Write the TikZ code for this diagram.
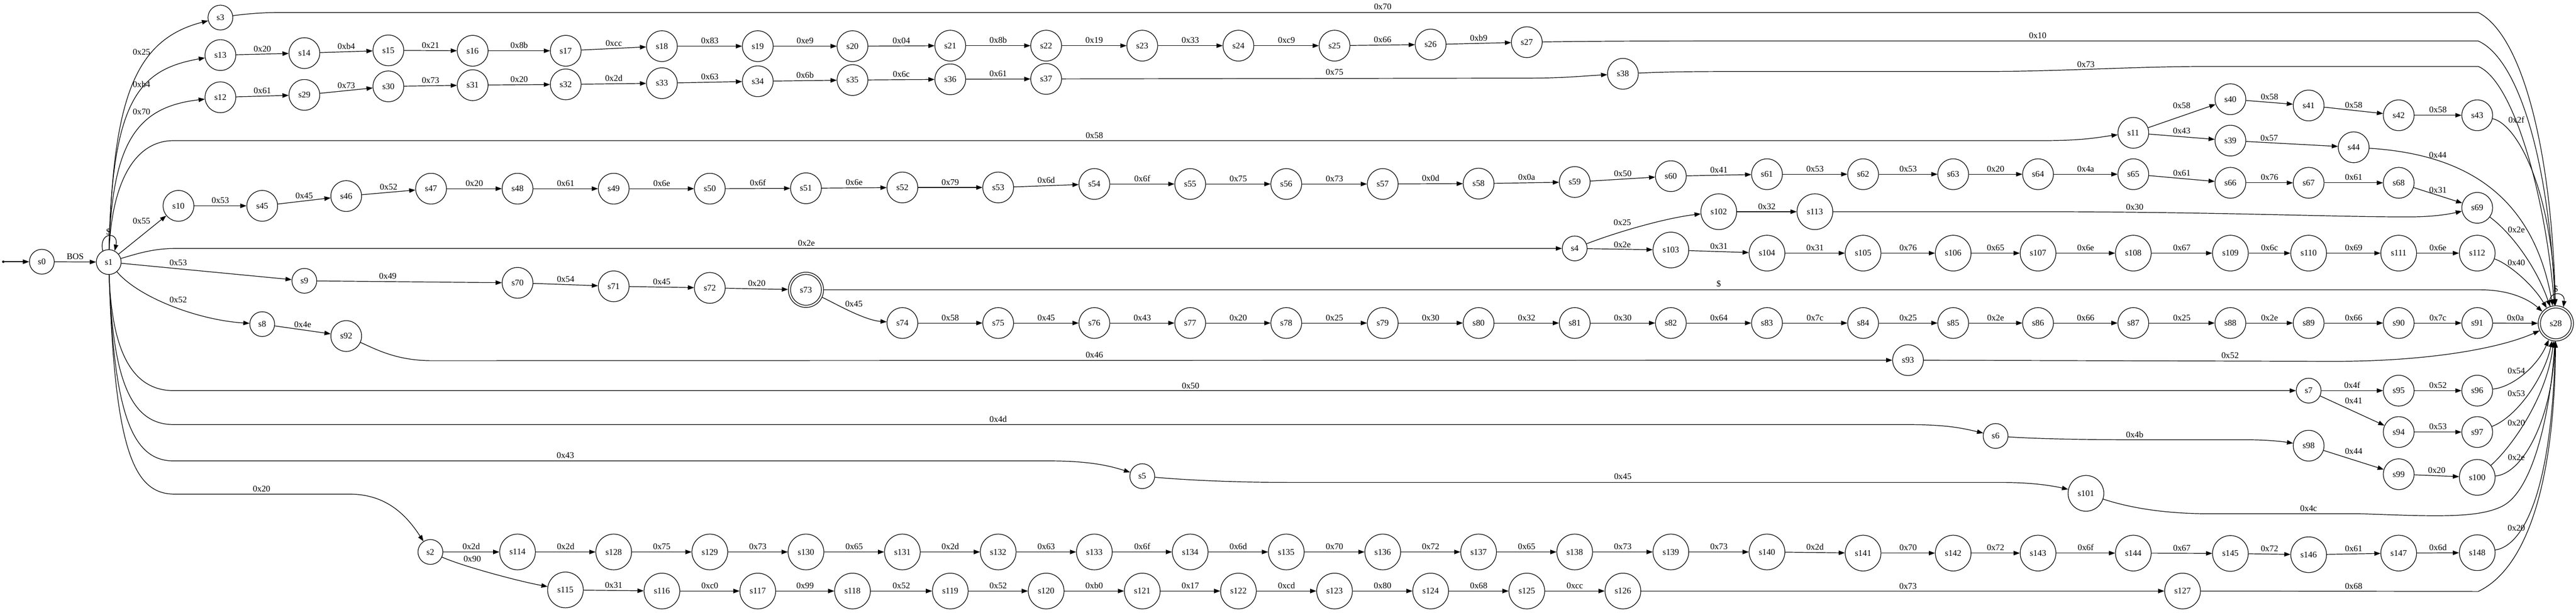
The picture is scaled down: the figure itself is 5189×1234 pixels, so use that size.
\documentclass[tikz,border=0pt]{standalone}
\usepackage{fontspec}
\setmainfont{Liberation Serif}
\usetikzlibrary{arrows.meta}
\begin{document}
\begin{tikzpicture}[x=1pt,y=-1pt,
  every node/.style={font=\fontsize{17.5pt}{21pt}\selectfont},
  base/.style={circle, draw, line width=1.25pt, inner sep=0pt},
  n2/.style={base, minimum size=50pt},
  n3/.style={base, minimum size=62pt},
  n4/.style={base, minimum size=72pt},
  acc/.style={base, minimum size=71pt},
  e/.style={line width=1.25pt, -{Triangle[length=12.5pt,width=9pt]}},
  lab/.style={inner sep=0pt, text height=11.6pt, text depth=0pt},
  ab/.style={lab, above=4.5pt},
]
\useasboundingbox (0,0) rectangle (5189,1234);

% ---------- states ----------
\foreach \nm/\xx/\yy in {s0/84.3/527.3, s1/219/528, s2/867/1112, s3/444/35.4, s4/3172/500.5,
  s5/2300.9/959.3, s6/4019.8/878.3, s7/4650.4/787, s8/528.2/653, s9/613.1/565.8}
  \node[n2] (\nm) at (\xx,\yy) {\nm};

\foreach \nm/\xx/\yy in {s10/359.5/414.7, s11/4297.2/267.6, s12/444/196, s13/444/111,
  s14/613.1/107, s15/782.3/101.5, s16/952.1/102.3, s17/1139.6/102.3, s18/1333.3/93,
  s19/1526.4/93, s20/1717.2/93, s21/1914.2/92, s22/2107.3/92, s23/2300.9/92, s24/2494.6/92,
  s25/2688.2/92, s26/2881.8/89.7, s27/3075.5/85,
  s29/613.1/191.2, s30/782.3/174, s31/952.1/171.6, s32/1139.6/170, s33/1333.3/167.6,
  s34/1526.4/163.7, s35/1717.2/161.3, s36/1914.2/159.8, s37/2107.3/159, s38/3269.1/148.7,
  s39/4492.8/283.3, s40/4492.8/199.9, s41/4650.4/212.5, s42/4831.8/232.2, s43/4990/232.2,
  s44/4741.1/296.7,
  s45/528.2/414.7, s46/697.4/395, s47/868.3/380.1, s48/1042.5/380.1, s49/1236.2/380.1,
  s50/1429.8/380.1, s51/1623.5/379.3, s52/1817.7/377.7, s53/2010.7/377.7, s54/2204.4/370.7,
  s55/2397.5/370.7, s56/2591/370.7, s57/2785.3/370.7, s58/2978.4/369.9, s59/3172/366.7,
  s60/3365.7/354.9, s61/3559.3/351, s62/3752.9/351, s63/3934.4/351, s64/4105.3/351,
  s65/4297.2/351, s66/4492.8/368.3, s67/4650.4/368.3, s68/4831.8/368.3, s69/4990/418.7,
  s70/1042.5/569.8, s71/1236.2/576.8, s72/1429.8/580,
  s74/1817.7/650.8, s75/2010.7/650.8, s76/2204.4/650.8, s77/2397.5/650.8, s78/2591/650.8,
  s79/2785.3/650.8, s80/2978.4/650.8, s81/3172/650.8, s82/3365.7/650.8, s83/3559.3/650.8,
  s84/3752.9/650.8, s85/3934.4/650.8, s86/4105.3/650.8, s87/4297.2/650.8, s88/4492.8/650.8,
  s89/4650.4/650.8, s90/4831.8/650.8, s91/4990/650.8,
  s92/697.4/677, s93/3843.4/725.6, s94/4831.8/870.4, s95/4831.8/787, s96/4990/787,
  s97/4990/870.4, s98/4650.4/897.9, s99/4831.8/955.4}
  \node[n3] (\nm) at (\xx,\yy) {\nm};

\foreach \nm/\xx/\yy in {s100/4990/961.7, s101/4201.8/993.9, s102/3462.2/426.5,
  s103/3365.7/503.7, s104/3559.3/510, s105/3752.9/510, s106/3934.4/510, s107/4105.3/510,
  s108/4297.2/510, s109/4492.8/510, s110/4650.4/510, s111/4831.8/510, s112/4990/510,
  s113/3655.8/426.5,
  s114/1042.5/1112, s128/1236.2/1112, s129/1429.8/1112, s130/1623.5/1112, s131/1817.7/1112,
  s132/2010.7/1112, s133/2204.4/1112, s134/2397.5/1112, s135/2591/1112, s136/2785.3/1112,
  s137/2978.4/1112, s138/3172/1112, s139/3365.7/1112, s140/3559.3/1112, s141/3752.9/1114.3,
  s142/3934.4/1114.3, s143/4105.3/1114.3, s144/4297.2/1114.3, s145/4492.8/1115,
  s146/4650.4/1117.5, s147/4831.8/1114.3, s148/4990/1113.5,
  s115/1139/1188.5, s116/1333.3/1190.7, s117/1526.4/1190.7, s118/1717.2/1190.7,
  s119/1914.2/1190.7, s120/2107.3/1190.7, s121/2300.9/1190.7, s122/2494.6/1190.7,
  s123/2688.2/1190.7, s124/2881.8/1190.7, s125/3075.5/1190.7, s126/3269.1/1190.7,
  s127/4396.4/1190.7}
  \node[n4] (\nm) at (\xx,\yy) {\nm};

\node[acc] (s73) at (1623.5,583.9) {s73};
\node[acc] (s28) at (5148.3,651.5) {s28};
\draw[line width=1.25pt] (s73.center) circle[radius=31pt];
\draw[line width=1.25pt] (s28.center) circle[radius=31pt];

\node[circle, fill, inner sep=0pt, minimum size=5pt] (st) at (6.7,527.3) {};
\draw[e] (st) -- (s0);

% ---------- straight chain edges ----------
\foreach \na/\nb/\lt in {s0/s1/BOS,
  s10/s45/0x53, s45/s46/0x45, s46/s47/0x52, s47/s48/0x20, s48/s49/0x61, s49/s50/0x6e,
  s50/s51/0x6f, s51/s52/0x6e, s52/s53/0x79, s53/s54/0x6d, s54/s55/0x6f, s55/s56/0x75,
  s56/s57/0x73, s57/s58/0x0d, s58/s59/0x0a, s59/s60/0x50, s60/s61/0x41, s61/s62/0x53,
  s62/s63/0x53, s63/s64/0x20, s64/s65/0x4a, s65/s66/0x61, s66/s67/0x76, s67/s68/0x61,
  s68/s69/0x31,
  s13/s14/0x20, s14/s15/0xb4, s15/s16/0x21, s16/s17/0x8b, s17/s18/0xcc, s18/s19/0x83,
  s19/s20/0xe9, s20/s21/0x04, s21/s22/0x8b, s22/s23/0x19, s23/s24/0x33, s24/s25/0xc9,
  s25/s26/0x66, s26/s27/0xb9,
  s12/s29/0x61, s29/s30/0x73, s30/s31/0x73, s31/s32/0x20, s32/s33/0x2d, s33/s34/0x63,
  s34/s35/0x6b, s35/s36/0x6c, s36/s37/0x61,
  s40/s41/0x58, s41/s42/0x58, s42/s43/0x58,
  s102/s113/0x32, s103/s104/0x31, s104/s105/0x31, s105/s106/0x76, s106/s107/0x65,
  s107/s108/0x6e, s108/s109/0x67, s109/s110/0x6c, s110/s111/0x69, s111/s112/0x6e,
  s70/s71/0x54, s71/s72/0x45, s72/s73/0x20, s74/s75/0x58, s75/s76/0x45, s76/s77/0x43,
  s77/s78/0x20, s78/s79/0x25, s79/s80/0x30, s80/s81/0x32, s81/s82/0x30, s82/s83/0x64,
  s83/s84/0x7c, s84/s85/0x25, s85/s86/0x2e, s86/s87/0x66, s87/s88/0x25, s88/s89/0x2e,
  s89/s90/0x66, s90/s91/0x7c, s91/s28/0x0a,
  s8/s92/0x4e, s7/s95/0x4f, s95/s96/0x52, s94/s97/0x53, s99/s100/0x20,
  s2/s114/0x2d, s114/s128/0x2d, s128/s129/0x75, s129/s130/0x73, s130/s131/0x65,
  s131/s132/0x2d, s132/s133/0x63, s133/s134/0x6f, s134/s135/0x6d, s135/s136/0x70,
  s136/s137/0x72, s137/s138/0x65, s138/s139/0x73, s139/s140/0x73, s140/s141/0x2d,
  s141/s142/0x70, s142/s143/0x72, s143/s144/0x6f, s144/s145/0x67, s145/s146/0x72,
  s146/s147/0x61, s147/s148/0x6d,
  s115/s116/0x31, s116/s117/0xc0, s117/s118/0x99, s118/s119/0x52, s119/s120/0x52,
  s120/s121/0xb0, s121/s122/0x17, s122/s123/0xcd, s123/s124/0x80, s124/s125/0x68,
  s125/s126/0xcc}
  \draw[e] (\na) -- node[ab] {\lt} (\nb);

% ---------- other straight edges ----------
\draw[e] (s1) -- (s10);
\draw[e] (s1) -- (s9);
\draw[e] (s9) -- (s70);
\draw[e] (s4) -- (s103);
\draw[e] (s11) -- (s40);
\draw[e] (s11) -- (s39);
\draw[e] (s39) -- (s44);
\draw[e] (s7) -- (s94);
\draw[e] (s98) -- (s99);
\draw[e] (s126) -- (s127);

% ---------- fan out of s1 ----------
\draw[e] (s1.118) .. controls (198,466) and (240,466) .. (s1.62);
\draw[e] (s1) .. controls (228,200) and (270,80) .. (s3);
\draw[e] (s1) .. controls (226,200) and (280,140) .. (s13);
\draw[e] (s1) .. controls (226,280) and (280,215) .. (s12);
\draw[e] (s1) .. controls (225,380) and (265,283.3) .. (350,283.3) -- (4117,283.3)
  .. controls (4200,283.3) and (4230,276) .. (s11);
\draw[e] (s1) .. controls (280,510) and (310,500.5) .. (355,500.5) -- (s4);
\draw[e] (s1) .. controls (280,600) and (400,645) .. (s8);
\draw[e] (s1) .. controls (225,700) and (262,787) .. (350,787) -- (s7);
\draw[e] (s1) .. controls (227,770) and (265,855.4) .. (350,855.4) -- (3839.5,855.4)
  .. controls (3920,855.4) and (3950,862) .. (s6);
\draw[e] (s1) .. controls (229,840) and (268,928.6) .. (350,928.6) -- (2114,928.6)
  .. controls (2200,928.6) and (2240,940) .. (s5);
\draw[e] (s1) .. controls (231,910) and (270,995.5) .. (352,995.5) -- (704,995.5)
  .. controls (780,995.5) and (820,1040) .. (s2);

% ---------- other curved edges ----------
\draw[e] (s37) -- (3079,157.4) .. controls (3150,157.4) and (3190,153) .. (s38);
\draw[e] (s92) .. controls (760,705) and (800,726.6) .. (870,726.6) -- (s93);
\draw[e] (s5) .. controls (2400,968) and (2500,972) .. (2600,972) -- (4034,972)
  .. controls (4100,972) and (4140,980) .. (s101);
\draw[e] (s6) .. controls (4100,884) and (4200,886) .. (4300,886) -- (4527,886)
  .. controls (4570,886) and (4600,890) .. (s98);
\draw[e] (s113) -- (4150,426.5) .. controls (4500,428) and (4700,437) .. (4850,437)
  .. controls (4900,437) and (4930,432) .. (s69);
\draw[e] (s73) .. controls (1680,610) and (1740,645) .. (s74);
\draw[e] (s2) .. controls (930,1140) and (1040,1170) .. (s115);
\draw[e] (s4) .. controls (3250,470) and (3350,440) .. (s102);

% ---------- edges into s28 ----------
\draw[e] (s3) .. controls (480,30) and (520,25.2) .. (560,25.2) -- (4992,25.2)
  .. controls (5080,70) and (5140,300) .. (s28);
\draw[e] (s27) .. controls (3200,83) and (3300,82.6) .. (3450,82.6) -- (4992,82.6)
  .. controls (5075,120) and (5135,330) .. (s28);
\draw[e] (s38) .. controls (3350,145) and (3400,144) .. (3500,144) -- (4000,144)
  .. controls (4150,144) and (4300,133.8) .. (4450,133.8) -- (4992,133.8)
  .. controls (5065,165) and (5128,400) .. (s28);
\draw[e] (s43) .. controls (5070,250) and (5140,380) .. (s28);
\draw[e] (s44) .. controls (4950,310) and (5100,380) .. (s28);
\draw[e] (s69) .. controls (5060,470) and (5110,540) .. (s28);
\draw[e] (s112) .. controls (5050,530) and (5100,570) .. (s28);
\draw[e] (s73) -- (4997,583.9) .. controls (5050,583.9) and (5090,600) .. (s28);
\draw[e] (s93) -- (4700,728) .. controls (4900,728) and (5040,700) .. (s28);
\draw[e] (s96) .. controls (5060,780) and (5110,740) .. (s28);
\draw[e] (s97) .. controls (5070,840) and (5125,760) .. (s28);
\draw[e] (s100) .. controls (5060,900) and (5130,800) .. (s28);
\draw[e] (s100) .. controls (5080,955) and (5140,850) .. (s28);
\draw[e] (s101) .. controls (4280,1020) and (4350,1035) .. (4450,1035) -- (4754,1035)
  .. controls (4900,1040) and (4990,1045) .. (5040,1020)
  .. controls (5110,985) and (5140,800) .. (s28);
\draw[e] (s148) .. controls (5080,1100) and (5140,1000) .. (s28);
\draw[e] (s127) -- (4992,1191.5) .. controls (5080,1150) and (5145,1000) .. (s28);
\draw[e] (s28.108) .. controls (5128,585) and (5168,585) .. (s28.65);

% ---------- edge labels placed by hand ----------
\node[lab] (l1) at (218.3,467) {\$};
\node[lab] (l2) at (5148.3,581.7) {\$};
\node[lab] (l3) at (285.2,104.7) {0x25};
\node[lab] (l4) at (285.2,170) {0xb4};
\node[lab] (l5) at (285.2,225) {0x70};
\node[lab] (l6) at (2204.4,273) {0x58};
\node[lab] (l7) at (285.2,445.4) {0x55};
\node[lab] (l8) at (1624.4,489.5) {0x2e};
\node[lab] (l9) at (359,528.8) {0x53};
\node[lab] (l10) at (359,604.4) {0x52};
\node[lab] (l11) at (2398.3,776.7) {0x50};
\node[lab] (l12) at (2010.7,844.4) {0x4d};
\node[lab] (l13) at (1138.9,916.8) {0x43};
\node[lab] (l14) at (527,985) {0x20};
\node[lab] (l15) at (2785.3,13.4) {0x70};
\node[lab] (l16) at (4104.7,71.6) {0x10};
\node[lab] (l17) at (2688.2,145.6) {0x75};
\node[lab] (l18) at (4201.8,129.9) {0x73};
\node[lab] (l19) at (4394.7,212.5) {0x58};
\node[lab] (l20) at (4394.7,263.6) {0x43};
\node[lab] (l21) at (4571,277.8) {0x57};
\node[lab] (l22) at (5068.8,241.6) {0x2f};
\node[lab] (l23) at (4910.6,312.4) {0x44};
\node[lab] (l24) at (5068.8,462.7) {0x2e};
\node[lab] (l25) at (3268,447.8) {0x25};
\node[lab] (l26) at (3268,492.6) {0x2e};
\node[lab] (l27) at (4300,417) {0x30};
\node[lab] (l28) at (5068.8,528.8) {0x40};
\node[lab] (l29) at (781.2,556.4) {0x49};
\node[lab] (l30) at (3462.2,572.1) {\$};
\node[lab] (l31) at (1720,612.3) {0x45};
\node[lab] (l32) at (2204.4,715.3) {0x46};
\node[lab] (l33) at (4492.2,716.1) {0x52};
\node[lab] (l34) at (4741,807.4) {0x41};
\node[lab] (l35) at (5068.8,747.6) {0x54};
\node[lab] (l36) at (5068.8,792.5) {0x53};
\node[lab] (l37) at (4300,876) {0x4b};
\node[lab] (l38) at (4741,908.9) {0x44};
\node[lab] (l39) at (5068.8,851.5) {0x20};
\node[lab] (l40) at (5068.8,921.5) {0x2e};
\node[lab] (l41) at (3268.9,960.1) {0x45};
\node[lab] (l42) at (4650.4,1023.8) {0x4c};
\node[lab] (l43) at (5068.8,1064) {0x20};
\node[lab] (l44) at (951.3,1125.7) {0x90};
\node[lab] (l45) at (3843.4,1180.4) {0x73};
\node[lab] (l46) at (4741,1180.4) {0x68};
\end{tikzpicture}
\end{document}
